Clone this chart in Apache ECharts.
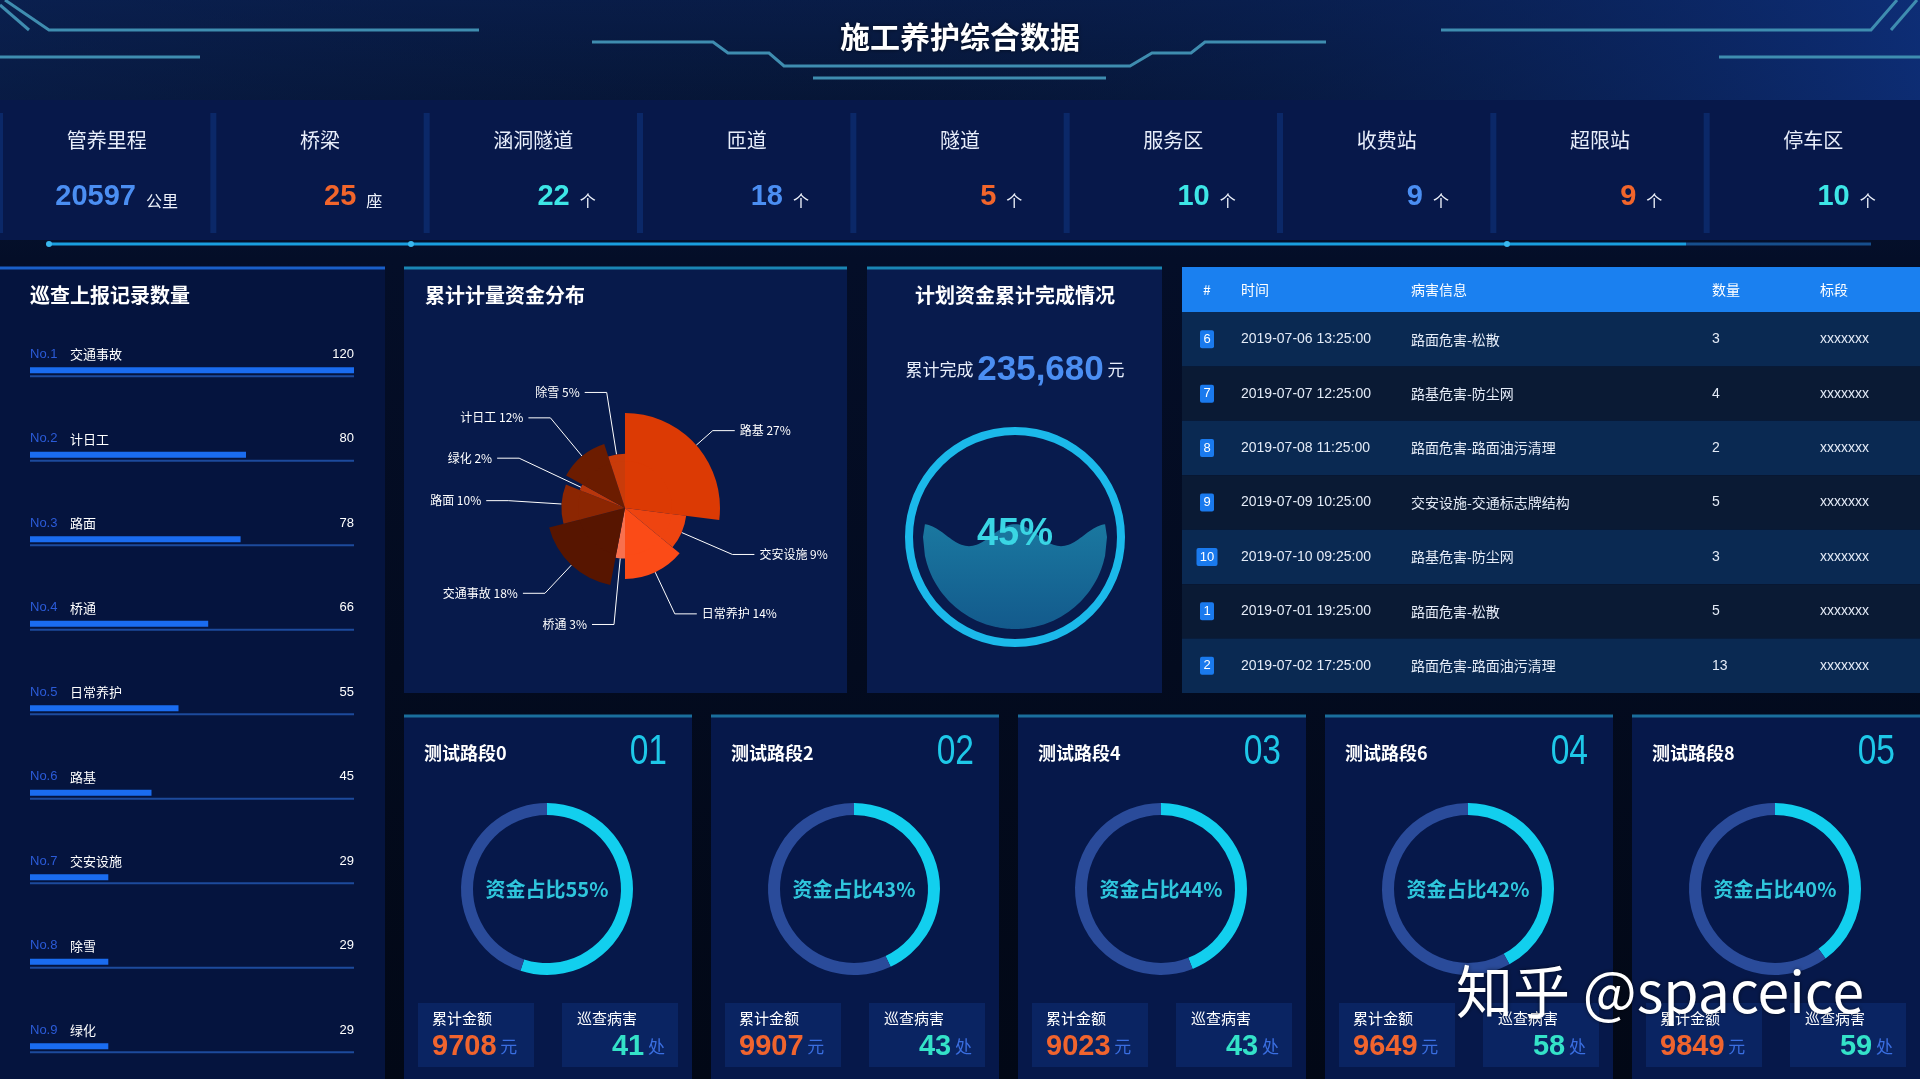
<!DOCTYPE html>
<html>
<head>
<meta charset="utf-8">
<title>施工养护综合数据</title>
<script src="https://cdn.jsdelivr.net/npm/echarts@6/dist/echarts.min.js"></script>
<style>
html, body { margin: 0; padding: 0; background: #030a20; overflow: hidden; }
#main { width: 1920px; height: 1079px; }
</style>
</head>
<body>
<div id="main"></div>
<script>
// 顶部指标
const kpiNames = ['管养里程', '桥梁', '涵洞隧道', '匝道', '隧道', '服务区', '收费站', '超限站', '停车区'];
const kpiValues = [20597, 25, 22, 18, 5, 10, 9, 9, 10];
const kpiUnits = ['公里', '座', '个', '个', '个', '个', '个', '个', '个'];

// 巡查上报记录数量
const reportNames = ['交通事故', '计日工', '路面', '桥通', '日常养护', '路基', '交安设施', '除雪', '绿化'];
const reportValues = [120, 80, 78, 66, 55, 45, 29, 29, 29];

// 累计计量资金分布
const pieNames = ['路基', '交安设施', '日常养护', '桥通', '交通事故', '路面', '绿化', '计日工', '除雪'];
const pieValues = [27, 9, 14, 3, 18, 10, 2, 12, 5];

// 计划资金累计完成情况
const totalDone = 235680;
const doneRatio = 0.45;

// 病害列表
const tableHead = ['#', '时间', '病害信息', '数量', '标段'];
const rowIds = [6, 7, 8, 9, 10, 1, 2];
const rowTimes = ['2019-07-06 13:25:00', '2019-07-07 12:25:00', '2019-07-08 11:25:00', '2019-07-09 10:25:00',
	'2019-07-10 09:25:00', '2019-07-01 19:25:00', '2019-07-02 17:25:00'];
const rowInfos = ['路面危害-松散', '路基危害-防尘网', '路面危害-路面油污清理', '交安设施-交通标志牌结构',
	'路基危害-防尘网', '路面危害-松散', '路面危害-路面油污清理'];
const rowCounts = [3, 4, 2, 5, 3, 5, 13];
const rowSections = ['xxxxxxx', 'xxxxxxx', 'xxxxxxx', 'xxxxxxx', 'xxxxxxx', 'xxxxxxx', 'xxxxxxx'];

// 测试路段
const roadNames = ['测试路段0', '测试路段2', '测试路段4', '测试路段6', '测试路段8'];
const roadNos = ['01', '02', '03', '04', '05'];
const roadRatios = [55, 43, 44, 42, 40];
const roadAmounts = [9708, 9907, 9023, 9649, 9849];
const roadIssues = [41, 43, 43, 58, 59];

const W = 1920, H = 1079;
const CN = '"Noto Sans CJK SC", "Microsoft YaHei", sans-serif';
const NUM = '"Liberation Sans", Arial, sans-serif';
const kpiColors = ['#4b8ef2', '#f2652b', '#3de6e6'];
const pieColors = ['#dc3a04', '#ee4410', '#fb4b17', '#f8704e', '#571500', '#8c2602', '#b8360c', '#6c1c00', '#c93b0a'];

const g = [];
function R(x, y, w, h, fill, r) {
	g.push({ type: 'rect', silent: true, shape: { x: x, y: y, width: w, height: h, r: r || 0 }, style: { fill: fill } });
}
function L(points, stroke, lw) {
	g.push({ type: 'polyline', silent: true, shape: { points: points }, style: { stroke: stroke, lineWidth: lw || 3, fill: null } });
}
function T(x, y, str, size, color, o) {
	o = o || {};
	const el = {
		type: 'text', x: x, y: y, silent: true, z: o.z || 0,
		style: {
			text: String(str), fill: color, fontSize: size,
			fontWeight: o.weight || 'normal', fontFamily: o.family || CN,
			align: o.align || 'left', verticalAlign: o.v || 'middle'
		}
	};
	if (o.scaleX) el.scaleX = o.scaleX;
	if (o.rich) el.style.rich = o.rich;
	if (o.shadow) {
		el.style.textShadowColor = 'rgba(0,0,0,0.55)';
		el.style.textShadowBlur = 4;
	}
	g.push(el);
}
function lin(x2, y2, stops) {
	return { type: 'linear', x: 0, y: 0, x2: x2, y2: y2, colorStops: stops.map(s => ({ offset: s[0], color: s[1] })) };
}

// 背景
R(0, 0, W, H, lin(0, 1, [[0, '#0a1f4d'], [0.09, '#071738'], [0.24, '#040e28'], [1, '#020816']]));
R(0, 0, W, 100, lin(1, 0, [[0, 'rgba(10,32,80,0.5)'], [0.45, 'rgba(4,18,50,0.2)'], [1, 'rgba(14,48,125,0.85)']]));

// 顶部装饰线
const deco = '#3f8db0';
L([[5, 0], [49, 30], [479, 30]], deco);
L([[0, 5], [29, 30]], deco);
L([[0, 57], [200, 57]], deco);
L([[592, 42], [713, 42], [728, 53], [769, 53], [784, 66], [1130, 66], [1152, 53], [1191, 53], [1205, 42], [1326, 42]], deco);
L([[813, 78], [1106, 78]], deco);
L([[1441, 30], [1871, 30], [1897, 0]], deco);
L([[1891, 30], [1917, 0]], deco);
L([[1719, 57], [1920, 57]], deco);
T(960, 37, '施工养护综合数据', 30, '#ffffff', { align: 'center', weight: 'bold', shadow: true });

// 指标栏
R(0, 100, W, 140, '#07184a');
const cw = W / 9;
kpiNames.forEach((n, i) => {
	const x0 = cw * i;
	R(x0 - 3, 113, 6, 120, '#0b2868');
	T(x0 + cw / 2, 140, n, 20, '#e8eefb', { align: 'center' });
	T(x0 + (i === 0 ? 136 : 143), 197, kpiValues[i], 29, kpiColors[i % 3], { align: 'right', weight: 'bold', family: NUM });
	T(x0 + (i === 0 ? 146 : 153), 201, kpiUnits[i], 16, '#eef2fb');
});
L([[49, 244], [1686, 244]], '#1a9fdf', 3);
L([[1686, 244], [1871, 244]], '#174f8c', 3);
[49, 411, 1507].forEach(x => g.push({ type: 'circle', silent: true, shape: { cx: x, cy: 244, r: 3 }, style: { fill: '#3ab8ee' } }));

// 面板
R(0, 267, 385, 812, '#05143e');
L([[0, 268], [385, 268]], '#1a5fc8', 3);
T(30, 295, '巡查上报记录数量', 20, '#ffffff', { weight: 'bold' });

R(404, 267, 443, 426, '#071a4b');
L([[404, 268], [847, 268]], '#1a86b4', 3);
T(425, 295, '累计计量资金分布', 20, '#ffffff', { weight: 'bold' });

R(867, 267, 295, 426, '#081b4d');
L([[867, 268], [1162, 268]], '#1a86b4', 3);
T(1015, 295, '计划资金累计完成情况', 20, '#ffffff', { align: 'center', weight: 'bold' });
T(1015, 370, '{a|累计完成 }{b|' + totalDone.toLocaleString('en-US') + '}{a| 元}', 17, '#e8eefb', {
	align: 'center',
	rich: {
		a: { fontSize: 17, fill: '#e8eefb', fontFamily: CN },
		b: { fontSize: 35, fill: '#4b8ef2', fontWeight: 'bold', fontFamily: NUM }
	}
});
g.push({ type: 'ring', silent: true, shape: { cx: 1015, cy: 537, r: 110, r0: 102 }, style: { fill: '#1bb9ea' } });

// 表格
const colX = [1207, 1241, 1411, 1712, 1820];
R(1182, 267, 738, 45, '#1a80f0');
tableHead.forEach((h, j) => T(colX[j], 290, h, 14, '#ffffff', { align: j === 0 ? 'center' : 'left' }));
const rowH = 381 / 7;
rowIds.forEach((id, i) => {
	const y0 = 312 + rowH * i, cy = y0 + rowH / 2;
	R(1182, y0, 738, rowH, i % 2 === 0 ? '#0a2952' : '#0a1a34');
	const bw = id >= 10 ? 21 : 14;
	R(colX[0] - bw / 2, cy - 9, bw, 18, '#1a7aee', 2);
	T(colX[0], cy, id, 13, '#ffffff', { align: 'center', family: NUM });
	T(colX[1], cy, rowTimes[i], 14, '#e4ebf7', { family: NUM });
	T(colX[2], cy, rowInfos[i], 14, '#e4ebf7');
	T(colX[3], cy, rowCounts[i], 14, '#e4ebf7', { family: NUM });
	T(colX[4], cy, rowSections[i], 14, '#e4ebf7', { family: NUM });
});

// 路段卡片
const cardX = [404, 711, 1018, 1325, 1632];
cardX.forEach((x0, k) => {
	R(x0, 715, 288, 364, '#06184a');
	L([[x0, 716], [x0 + 288, 716]], '#1a6e9c', 3);
	T(x0 + 20, 753, roadNames[k], 18, '#ffffff', { weight: 'bold' });
	T(x0 + 263, 752, roadNos[k], 42, '#1ec8e8', { align: 'right', family: NUM, scaleX: 0.8 });
	R(x0 + 14, 1003, 116, 64, '#0a2462');
	R(x0 + 158, 1003, 116, 64, '#0a2462');
	T(x0 + 28, 1018, '累计金额', 15, '#ffffff');
	T(x0 + 28, 1047, '{v|' + roadAmounts[k] + '}{u| 元}', 17, '#3a6ee0', {
		rich: {
			v: { fontSize: 29, fontWeight: 'bold', fill: '#f0642e', fontFamily: NUM },
			u: { fontSize: 17, fill: '#3a6ee0', fontFamily: CN }
		}
	});
	T(x0 + 173, 1018, '巡查病害', 15, '#ffffff');
	T(x0 + 261, 1047, '{v|' + roadIssues[k] + '}{u| 处}', 17, '#3a6ee0', {
		align: 'right',
		rich: {
			v: { fontSize: 29, fontWeight: 'bold', fill: '#34e2c8', fontFamily: NUM },
			u: { fontSize: 17, fill: '#3a6ee0', fontFamily: CN }
		}
	});
});

T(1456, 991, '知乎 @spaceice', 57, '#ffffff', { z: 100, shadow: true });

// series
const reportMax = Math.max.apply(null, reportValues);
const series = [
	{
		type: 'bar', data: reportValues, barWidth: 6, barGap: '30%', silent: true,
		itemStyle: { color: '#1a6cf0' },
		label: {
			show: true, position: [0, -13], verticalAlign: 'middle', align: 'left',
			formatter: p => '{no|No.' + (p.dataIndex + 1) + '}{nm|' + p.name + '}',
			rich: {
				no: { color: '#2b5bd8', fontSize: 13, fontFamily: NUM, width: 40 },
				nm: { color: '#ffffff', fontSize: 13, fontFamily: CN }
			}
		}
	},
	{
		type: 'bar', data: reportValues.map(() => reportMax), barWidth: 2, barGap: '30%', silent: true,
		itemStyle: { color: '#1d4a9c' },
		label: {
			show: true, position: ['100%', -21], verticalAlign: 'middle', align: 'right',
			color: '#ffffff', fontSize: 13, fontFamily: NUM,
			formatter: p => reportValues[p.dataIndex]
		}
	}
];

const pieData = pieNames.map((n, i) => ({ name: n, value: pieValues[i] }));
series.push({
	type: 'pie', center: [625, 508], radius: [45, 95], roseType: 'radius', silent: true,
	data: pieData,
	itemStyle: { color: p => pieColors[p.dataIndex] },
	label: { color: '#ffffff', fontSize: 12, fontFamily: CN, formatter: '{b} {d}%' },
	labelLine: { length: 22, length2: 22, lineStyle: { color: '#ffffff', width: 1 } }
});
series.push({
	type: 'pie', center: [625, 508], radius: [0, 47], silent: true, z: 3,
	data: pieData, label: { show: false }, labelLine: { show: false },
	itemStyle: { color: p => pieColors[p.dataIndex] }
});

series.push({
	type: 'custom', coordinateSystem: 'none', silent: true,
	data: [doneRatio],
	renderItem: function (params, api) {
		const v = api.value(0);
		const cx = 1015, cy = 537, r = 92, amp = 11, n = 96;
		const level = cy + r - 2 * r * v;
		const top = [], bottom = [];
		for (let i = 0; i <= n; i++) {
			const t = i / n, x = cx - r + 2 * r * t;
			const h = Math.sqrt(Math.max(0, r * r - (x - cx) * (x - cx)));
			let y = level - amp - amp * Math.cos(4 * Math.PI * t);
			y = Math.min(Math.max(y, cy - h), cy + h);
			top.push([x, y]);
			bottom.unshift([x, cy + h]);
		}
		return {
			type: 'group',
			children: [
				{ type: 'polygon', shape: { points: top.concat(bottom) }, style: { fill: lin(0, 1, [[0, '#1a78a0'], [1, '#135a8c']]) } },
				{
					type: 'text', x: cx, y: cy - 2,
					style: {
						text: Math.round(v * 100) + '%', fill: '#3ad6e4', fontSize: 38, fontWeight: 'bold',
						fontFamily: NUM, align: 'center', verticalAlign: 'middle'
					}
				}
			]
		};
	}
});

cardX.forEach((x0, k) => {
	series.push({
		type: 'pie', center: [x0 + 143, 889], radius: [74, 86], startAngle: 90, silent: true,
		data: [{ name: 'a', value: roadRatios[k] }, { name: 'b', value: 100 - roadRatios[k] }],
		itemStyle: { color: p => (p.dataIndex === 0 ? '#12cfee' : '#2a4b9a') },
		label: {
			show: true, position: 'center', color: '#2fc6dc', fontSize: 20, fontWeight: 'bold', fontFamily: CN,
			formatter: p => (p.dataIndex === 0 ? '资金占比' + p.value + '%' : '')
		},
		labelLine: { show: false }
	});
});

const chart = echarts.init(document.getElementById('main'));
chart.setOption({
	animation: false,
	graphic: { elements: g },
	grid: { left: 30, top: 330, width: 324, height: 760.5, outerBoundsMode: 'none' },
	xAxis: { type: 'value', min: 0, max: reportMax, show: false },
	yAxis: { type: 'category', data: reportNames, inverse: true, show: false },
	series: series
});
</script>
</body>
</html>
